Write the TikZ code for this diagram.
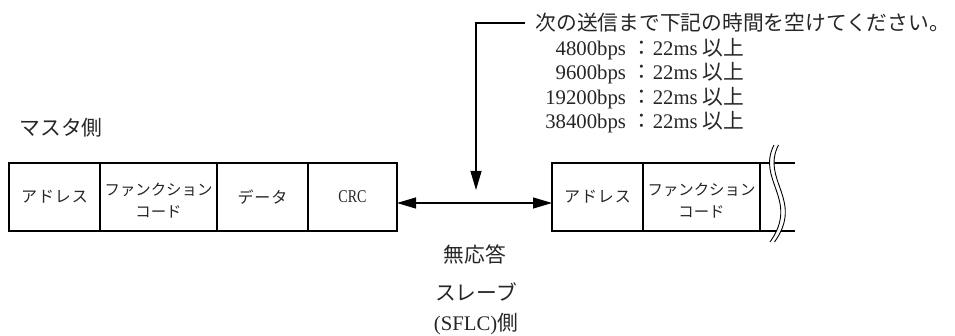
\documentclass[tikz,border=0pt]{standalone}
\usepackage{fontspec}
\setmainfont{Liberation Serif}
\newfontfamily\jp{Noto Sans CJK JP}
\newfontfamily\jpc{Noto Sans CJK JP}[LetterSpace=6]
\usetikzlibrary{arrows.meta}
\begin{document}
\begin{tikzpicture}[x=1pt,y=-1pt,line width=1.1pt,
  big/.style={font=\fontsize{20.75pt}{24pt}\selectfont, inner sep=0pt, text=black!85},
  fbox/.style={draw, minimum height=68pt, inner sep=0pt, outer sep=0pt, text=black!85,
    font=\jpc\fontsize{16pt}{22pt}\selectfont, align=center},
  boxtext/.style={inner sep=0pt, text=black!85, font=\jp\fontsize{15.4pt}{22pt}\selectfont, align=center},
  arr/.style={-{Triangle[length=19pt,width=11pt]}},
  darr/.style={{Triangle[length=19pt,width=11pt]}-{Triangle[length=19pt,width=11pt]}}]
\useasboundingbox (0,0) rectangle (955,336);
% master frame
\node[fbox, minimum width=91pt] (a1) at (54.5,197) {アドレス};
\node[fbox, minimum width=117pt] (a2) at (158.5,197) {};
\node[boxtext] (a2t) at (158.5,201) {ファンクション\\コード};
\node[fbox, minimum width=91pt] (a3) at (262.5,197) {データ};
\node[fbox, minimum width=89pt, font=\fontsize{18pt}{20pt}\selectfont] (a4) at (352.5,197) {\scalebox{0.78}[1]{CRC}};
% slave frame
\node[fbox, minimum width=91pt] (b1) at (597.5,197) {アドレス};
\node[fbox, minimum width=117pt] (b2) at (701.5,197) {};
\node[boxtext] (b2t) at (701.5,201) {ファンクション\\コード};
\coordinate (tr) at (795,163);
\coordinate (br) at (795,231);
\draw (b2.north east) -- (tr);
\draw (b2.south east) -- (br);
% break mark
\path[fill=white] (774,145) .. controls (756,180) and (800,200) .. (770,242)
  -- (774.5,242) .. controls (804.5,200) and (760.5,180) .. (778.5,145) -- cycle;
\draw[line width=0.9pt] (774,145) .. controls (756,180) and (800,200) .. (770,242);
\draw[line width=0.9pt] (778.5,145) .. controls (760.5,180) and (804.5,200) .. (774.5,242);
% labels
\node[big, anchor=west] (master) at (19,128) {\jp マスタ側};
\node[big, anchor=west, inner xsep=10pt] (note) at (525,23) {\jp 次の送信まで下記の時間を空けてください。};
\node[big, anchor=east] (r1) at (745,49) {4800bps\hspace{5pt}{\jp ：}\hspace{1pt}22ms {\jp 以上}};
\node[big, anchor=east] (r2) at (745,73) {9600bps\hspace{5pt}{\jp ：}\hspace{1pt}22ms {\jp 以上}};
\node[big, anchor=east] (r3) at (745,98) {19200bps\hspace{5pt}{\jp ：}\hspace{1pt}22ms {\jp 以上}};
\node[big, anchor=east] (r4) at (745,122) {38400bps\hspace{5pt}{\jp ：}\hspace{1pt}22ms {\jp 以上}};
\node[big] (noresp) at (475,254) {\jp 無応答};
\node[big, align=center, font=\fontsize{20.75pt}{30pt}\selectfont] (slave) at (476,309) {{\jp スレーブ}\\(SFLC){\jp 側}};
% connectors
\coordinate (corner) at (476,23);
\coordinate (tip) at (476,190);
\draw[arr] (note.west) -- (corner) -- (tip);
\draw[darr] ([yshift=-6pt]a4.east) -- ([yshift=-6pt]b1.west);
\end{tikzpicture}
\end{document}
